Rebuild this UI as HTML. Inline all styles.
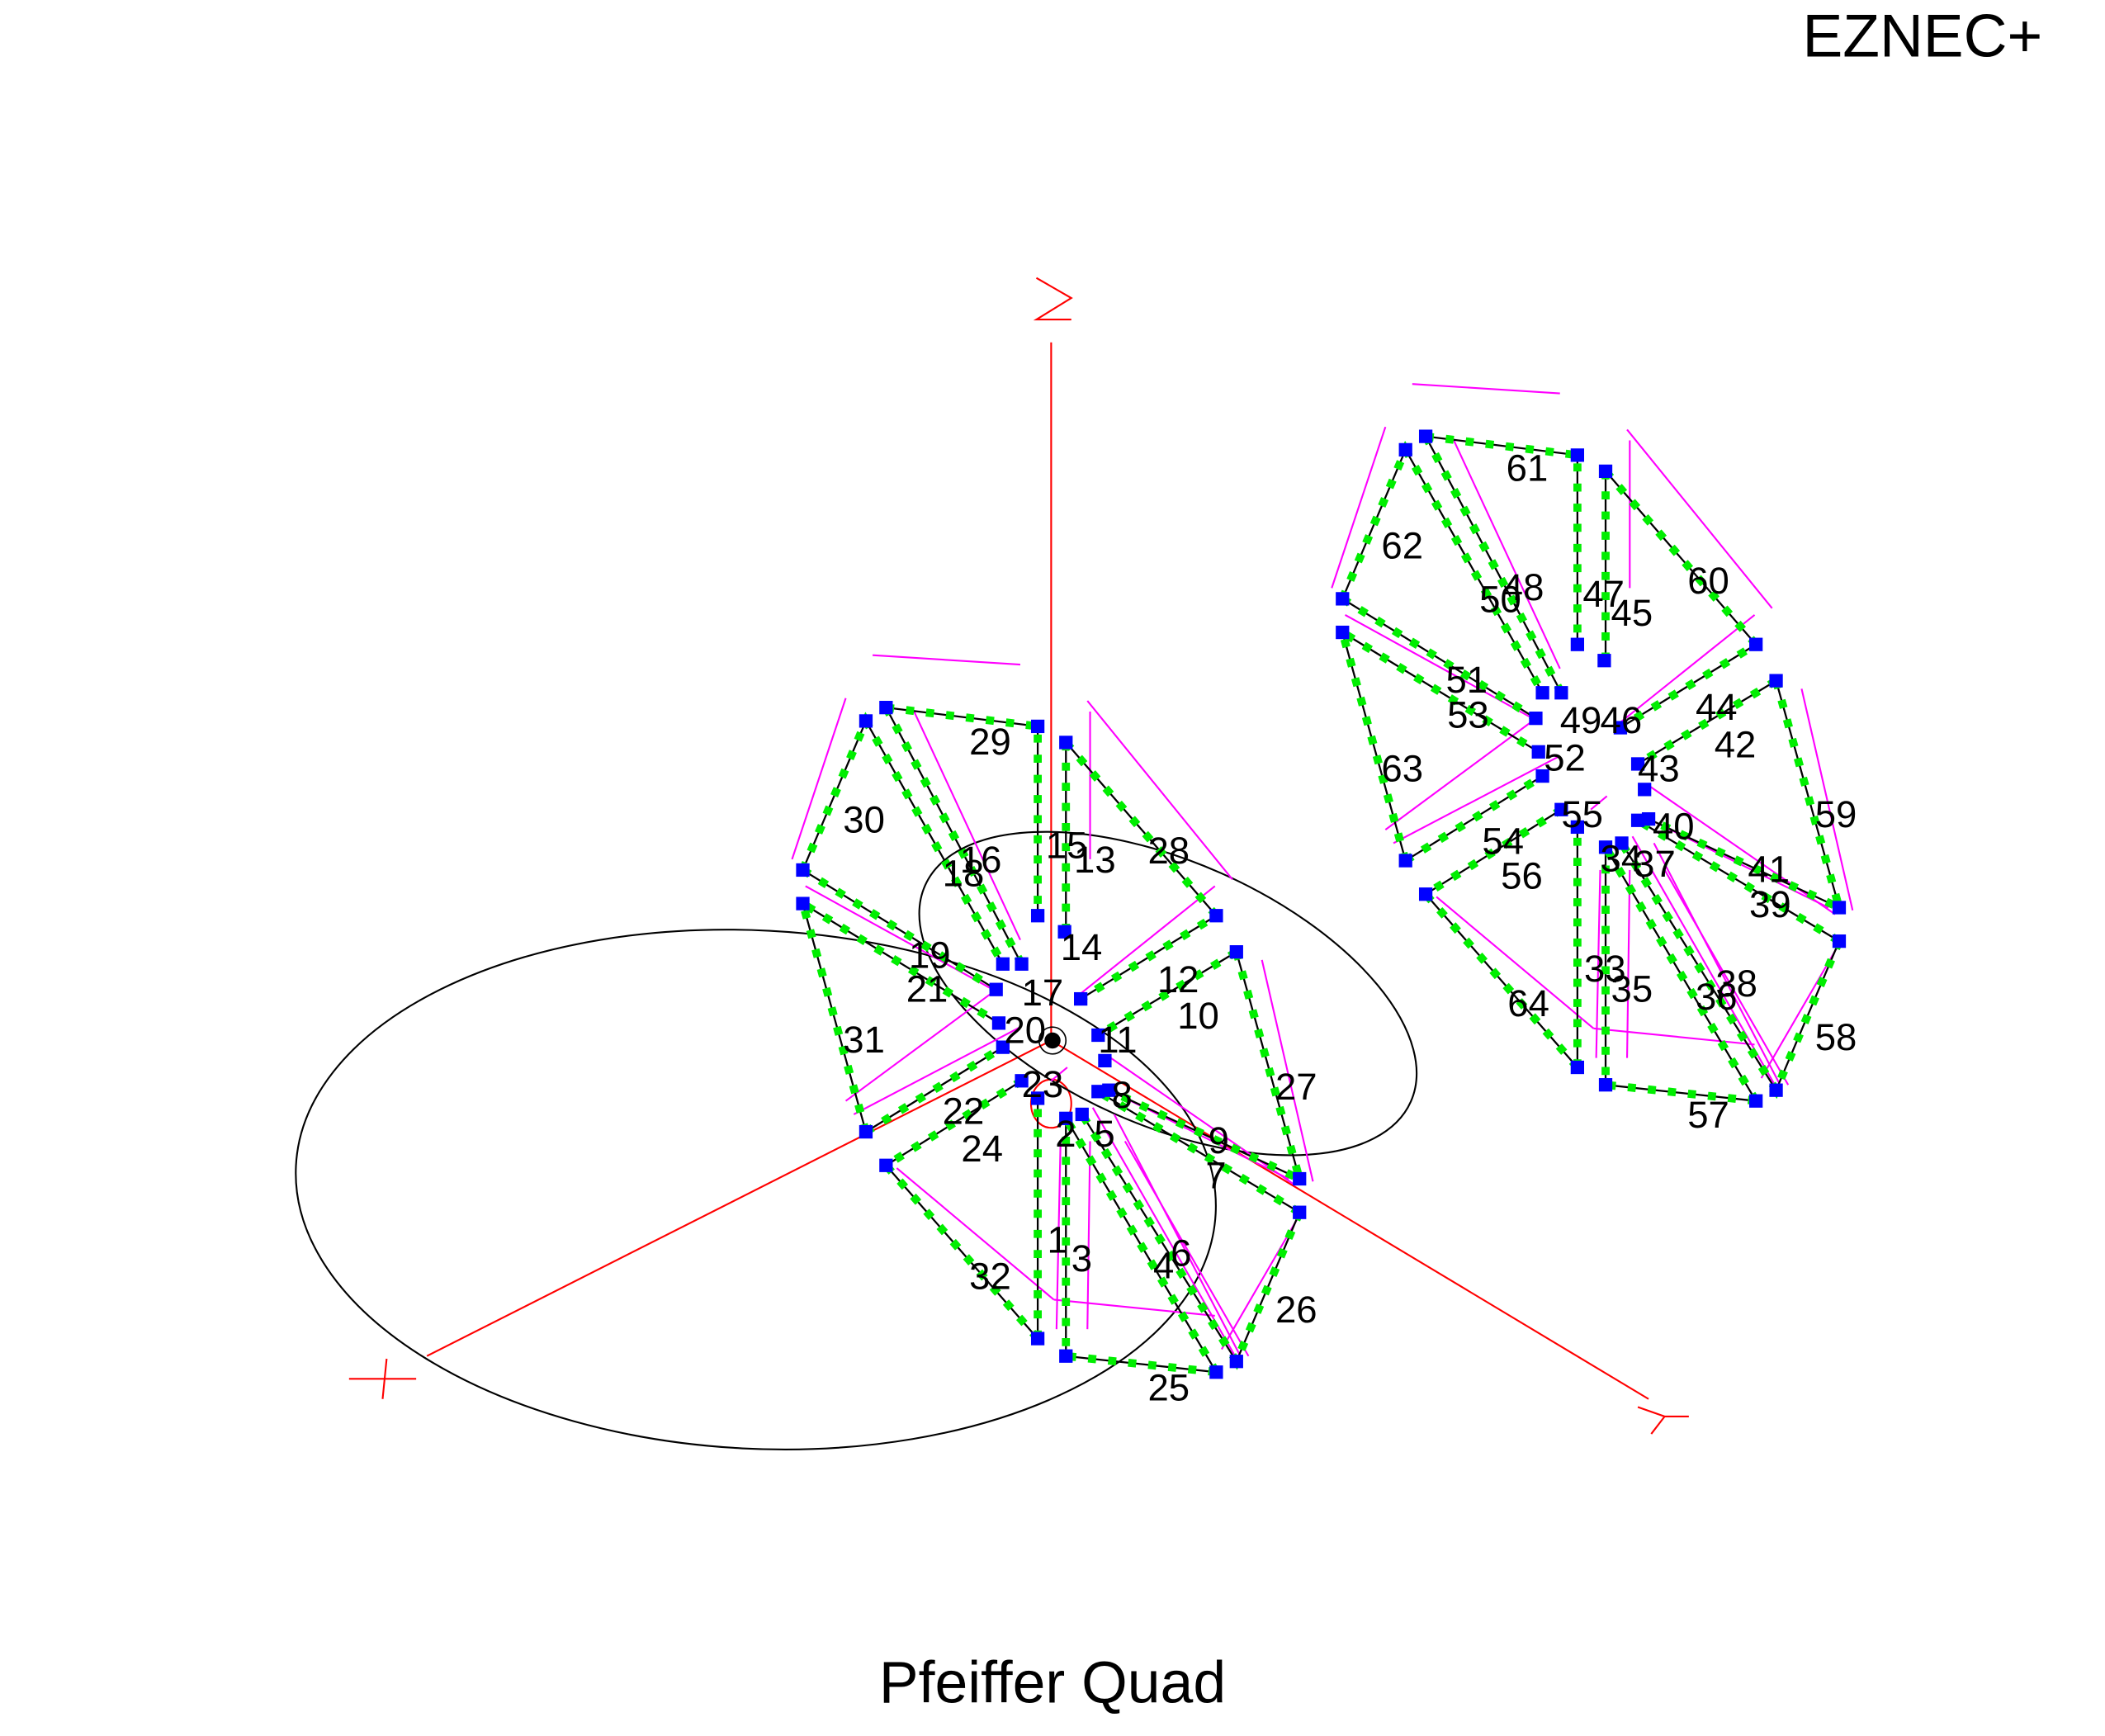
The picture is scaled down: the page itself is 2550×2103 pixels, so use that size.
<!DOCTYPE html>
<html><head><meta charset="utf-8"><style>
html,body{margin:0;padding:0;background:#fff;}
svg{display:block;}
text{font-family:"Liberation Sans",Arial,sans-serif;fill:#000;}
.n{font-size:28px;}
</style></head><body>
<svg width="2550" height="2103" viewBox="0 0 1568 1293" preserveAspectRatio="none" xmlns="http://www.w3.org/2000/svg">
<defs>
<g id="ant">
 <g stroke="#ff00ff" stroke-width="1.3" fill="none">
  <line x1="650" y1="488" x2="760" y2="495"/>
  <line x1="630" y1="520" x2="590" y2="640"/>
  <line x1="810" y1="522" x2="918" y2="655"/>
  <line x1="812" y1="530" x2="812" y2="640"/>
  <line x1="680" y1="528" x2="760" y2="700"/>
  <line x1="600" y1="660" x2="745" y2="740"/>
  <line x1="630" y1="820" x2="745" y2="735"/>
  <line x1="636" y1="830" x2="760" y2="765"/>
  <line x1="805" y1="740" x2="905" y2="660"/>
  <line x1="940" y1="715" x2="978" y2="880"/>
  <line x1="826" y1="787" x2="965" y2="883"/>
  <line x1="826" y1="812" x2="960" y2="878"/>
  <line x1="814" y1="825" x2="920" y2="1010"/>
  <line x1="830" y1="830" x2="925" y2="1012"/>
  <line x1="838" y1="850" x2="930" y2="1010"/>
  <line x1="910" y1="1005" x2="968" y2="905"/>
  <line x1="812" y1="850" x2="810" y2="990"/>
  <line x1="790" y1="850" x2="787" y2="990"/>
  <line x1="668" y1="870" x2="785" y2="968"/>
  <line x1="785" y1="968" x2="905" y2="980"/>
  <line x1="783" y1="805" x2="795" y2="795"/>
 </g>
 <g fill="none" stroke="#000" stroke-width="1.4">
  <path id="wires" d="M660,527 L773,541 L773,682 M794,553 L794,694 M794,553 L906,682 L805,744 M921,709 L818,771 M921,709 L968,878 L826,812 M968,903 L818,813 M968,903 L921,1014 L806,830 M906,1022 L794,833 M906,1022 L794,1010 L794,833 M773,997 L773,818 M773,997 L660,868 L761,805 M645,843 L747,780 M645,843 L598,673 L744,762 M598,648 L742,737 M598,648 L645,537 L747,718 M660,527 L761,718"/>
 </g>
 <use href="#wires" stroke="#00ee00" stroke-width="6" stroke-dasharray="6 9" fill="none"/>
 <g fill="#0000ff">
  <rect x="655" y="522" width="10" height="10"/><rect x="768" y="536" width="10" height="10"/>
  <rect x="640" y="532" width="10" height="10"/><rect x="593" y="643" width="10" height="10"/>
  <rect x="593" y="668" width="10" height="10"/><rect x="742" y="713" width="10" height="10"/>
  <rect x="756" y="713" width="10" height="10"/><rect x="737" y="732" width="10" height="10"/>
  <rect x="739" y="757" width="10" height="10"/><rect x="742" y="775" width="10" height="10"/>
  <rect x="756" y="800" width="10" height="10"/><rect x="768" y="813" width="10" height="10"/>
  <rect x="789" y="828" width="10" height="10"/><rect x="801" y="825" width="10" height="10"/>
  <rect x="789" y="548" width="10" height="10"/><rect x="788" y="689" width="10" height="10"/>
  <rect x="768" y="677" width="10" height="10"/><rect x="800" y="739" width="10" height="10"/>
  <rect x="813" y="766" width="10" height="10"/><rect x="901" y="677" width="10" height="10"/>
  <rect x="916" y="704" width="10" height="10"/><rect x="963" y="873" width="10" height="10"/>
  <rect x="963" y="898" width="10" height="10"/><rect x="916" y="1009" width="10" height="10"/>
  <rect x="901" y="1017" width="10" height="10"/><rect x="789" y="1005" width="10" height="10"/>
  <rect x="768" y="992" width="10" height="10"/><rect x="655" y="863" width="10" height="10"/>
  <rect x="640" y="838" width="10" height="10"/><rect x="813" y="808" width="10" height="10"/>
  <rect x="818" y="785" width="10" height="10"/><rect x="821" y="807" width="10" height="10"/>
 </g>
</g>
</defs>

<g stroke="#ff0000" stroke-width="1.3" fill="none">
 <line x1="783" y1="255" x2="783" y2="775"/>
 <polyline points="772,207 798,222 772,238 798,238"/>
 <line x1="783" y1="775" x2="318" y2="1010"/>
 <line x1="260" y1="1027" x2="310" y2="1027"/><line x1="288" y1="1012" x2="285" y2="1042"/>
 <line x1="783" y1="775" x2="1228" y2="1042"/>
 <polyline points="1220,1048 1240,1055 1258,1055"/><line x1="1240" y1="1055" x2="1230" y2="1068"/>
 <ellipse cx="783" cy="822" rx="15" ry="18"/>
</g>

<g fill="none" stroke="#000" stroke-width="1.3">
 <ellipse cx="563" cy="886" rx="343" ry="193" transform="rotate(3 563 886)"/>
 <ellipse cx="870" cy="740" rx="198" ry="98" transform="rotate(24 870 740)"/>
</g>

<use href="#ant"/>
<use href="#ant" transform="translate(402,-202)"/>

<circle cx="784" cy="775" r="6" fill="#000"/>
<circle cx="784" cy="775" r="10" fill="none" stroke="#000" stroke-width="1"/>

<g class="n">
<text x="722" y="562">29</text><text x="628" y="620">30</text><text x="779" y="639">15</text><text x="800" y="650">13</text>
<text x="715" y="650">16</text><text x="702" y="660">18</text><text x="855" y="643">28</text><text x="790" y="715">14</text>
<text x="677" y="721">19</text><text x="675" y="746">21</text><text x="761" y="749">17</text><text x="862" y="739">12</text>
<text x="877" y="766">10</text><text x="748" y="777">20</text><text x="818" y="784">11</text><text x="628" y="784">31</text>
<text x="950" y="819">27</text><text x="761" y="817">23</text><text x="702" y="837">22</text><text x="828" y="825">8</text>
<text x="786" y="854">2</text><text x="815" y="854">5</text><text x="716" y="865">24</text><text x="900" y="859">9</text>
<text x="898" y="885">7</text><text x="780" y="933">1</text><text x="798" y="947">3</text><text x="859" y="952">4</text>
<text x="872" y="943">6</text><text x="722" y="960">32</text><text x="950" y="985">26</text><text x="855" y="1043">25</text>
<text x="1122" y="358">61</text><text x="1029" y="416">62</text><text x="1119" y="447">48</text><text x="1102" y="456">50</text>
<text x="1179" y="452">47</text><text x="1200" y="466">45</text><text x="1257" y="442">60</text><text x="1077" y="516">51</text>
<text x="1078" y="542">53</text><text x="1162" y="546">49</text><text x="1192" y="546">46</text><text x="1263" y="536">44</text>
<text x="1277" y="564">42</text><text x="1150" y="574">52</text><text x="1220" y="582">43</text><text x="1029" y="582">63</text>
<text x="1163" y="616">55</text><text x="1231" y="625">40</text><text x="1352" y="616">59</text><text x="1104" y="636">54</text>
<text x="1192" y="649">34</text><text x="1217" y="653">37</text><text x="1302" y="657">41</text><text x="1118" y="662">56</text>
<text x="1303" y="683">39</text><text x="1180" y="731">33</text><text x="1200" y="746">35</text><text x="1263" y="752">36</text>
<text x="1278" y="742">38</text><text x="1123" y="757">64</text><text x="1352" y="782">58</text><text x="1257" y="840">57</text>
</g>

<text x="1432" y="42" font-size="45" text-anchor="middle">EZNEC+</text>
<text x="784" y="1268" font-size="44" text-anchor="middle">Pfeiffer Quad</text>
</svg>
</body></html>
